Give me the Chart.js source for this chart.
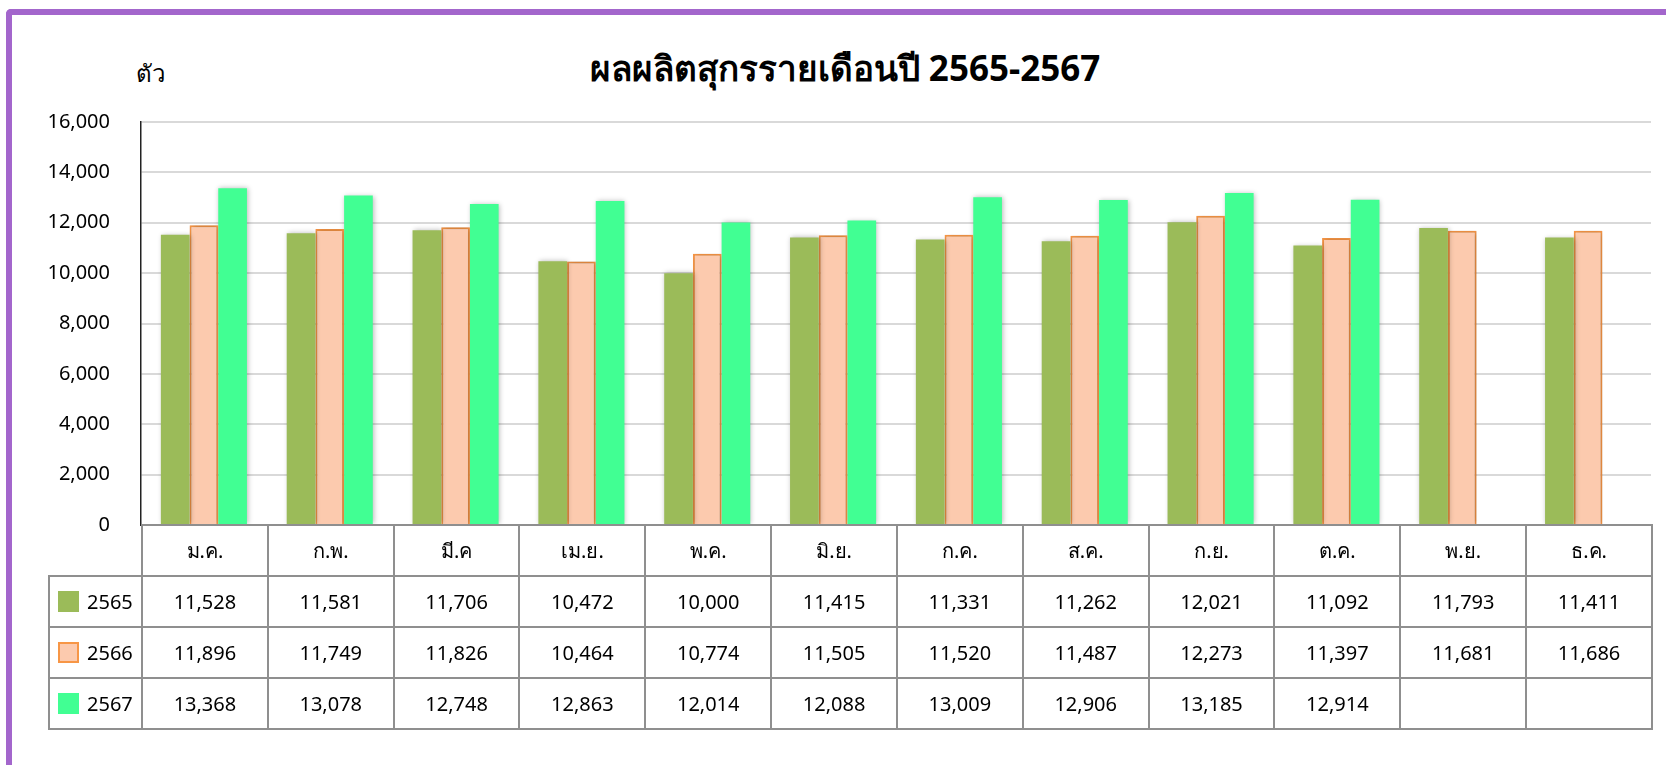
<!DOCTYPE html>
<html>
<head>
<meta charset="utf-8">
<script src="https://cdn.jsdelivr.net/npm/chart.js@4.4.1/dist/chart.umd.min.js"></script>
<style>
  body { margin: 0; width: 1666px; height: 765px; overflow: hidden; background: #fff; position: relative;
         font-family: "Noto Sans", "DejaVu Sans", sans-serif; color: #000; }
  #frame { position: absolute; left: 6px; top: 9px; width: 1720px; height: 820px;
           border-left: 6px solid #A366CC; border-top: 6px solid #A366CC; border-top-left-radius: 5px; }
  #title { position: absolute; left: 845px; top: 41px; transform: translateX(-50%); white-space: nowrap;
           font-size: 35px; font-weight: bold; }
  #unit { position: absolute; left: 136px; top: 54px; font-size: 24px; }
  #chart { position: absolute; left: 0; top: 0; }
  #data-table { position: absolute; border-collapse: collapse; table-layout: fixed; font-size: 20px; }
  #data-table td { border: 2px solid #8f8f8f; text-align: center; padding: 0; height: 49px; }
  #data-table td.blank { border: none; }
  #data-table td.legend { text-align: left; white-space: nowrap; }
  .swatch { display: inline-block; width: 21px; height: 21px; box-sizing: border-box;
            vertical-align: -3px; margin: 0 8px 0 8px; }
</style>
</head>
<body>
<div id="frame"></div>
<div id="title">ผลผลิตสุกรรายเดือนปี 2565-2567</div>
<div id="unit">ตัว</div>
<canvas id="chart" width="1666" height="765"></canvas>
<table id="data-table"></table>

<script>
// monthly pig output, 2565-2567
const months = ['ม.ค.', 'ก.พ.', 'มี.ค', 'เม.ย.', 'พ.ค.', 'มิ.ย.', 'ก.ค.', 'ส.ค.', 'ก.ย.', 'ต.ค.', 'พ.ย.', 'ธ.ค.'];
const years = ['2565', '2566', '2567'];
const y2565 = [11528, 11581, 11706, 10472, 10000, 11415, 11331, 11262, 12021, 11092, 11793, 11411];
const y2566 = [11896, 11749, 11826, 10464, 10774, 11505, 11520, 11487, 12273, 11397, 11681, 11686];
const y2567 = [13368, 13078, 12748, 12863, 12014, 12088, 13009, 12906, 13185, 12914, null, null];
const yMax = 16000;
const yStep = 2000;

const fills = ['#9BBB59', '#FCCAAE', '#41FF93'];
const borders = ['#9BBB59', '#F79646', '#41FF93'];
const fmt = v => v == null ? '' : v.toLocaleString('en-US');

// soft shadow behind the bars
const barShadow = {
  id: 'barShadow',
  beforeDatasetsDraw(chart) {
    const ctx = chart.ctx;
    ctx.save();
    ctx.shadowColor = 'rgba(0,0,0,0.28)';
    ctx.shadowBlur = 5;
    ctx.shadowOffsetX = 1;
    ctx.shadowOffsetY = 0;
  },
  afterDatasetsDraw(chart) {
    chart.ctx.restore();
  }
};

const chart = new Chart(document.getElementById('chart'), {
  type: 'bar',
  data: {
    labels: months,
    datasets: [y2565, y2566, y2567].map((d, i) => ({
      label: years[i],
      data: d,
      backgroundColor: fills[i],
      borderColor: borders[i],
      borderWidth: i === 1 ? 2 : 0,
      categoryPercentage: 0.684,
      barPercentage: 1.0
    }))
  },
  options: {
    responsive: false,
    animation: false,
    devicePixelRatio: 1,
    layout: { padding: { left: 0, right: 15, top: 122, bottom: 240 } },
    plugins: {
      legend: { display: false },
      title: { display: false },
      tooltip: { enabled: false }
    },
    scales: {
      x: { display: false },
      y: {
        min: 0,
        max: yMax,
        afterFit: s => { s.width = 141; },
        ticks: {
          stepSize: yStep,
          padding: 31,
          color: '#000',
          font: { family: '"Noto Sans", "DejaVu Sans", sans-serif', size: 20 },
          callback: v => fmt(v)
        },
        grid: { color: '#d9d9d9', lineWidth: 2, drawTicks: false },
        border: { color: '#222', width: 1.5 }
      }
    }
  },
  plugins: [barShadow]
});

function buildTable(chart) {
  const area = chart.chartArea;
  const colW = (area.right - area.left) / months.length;
  const legendW = area.left - 48;
  const table = document.getElementById('data-table');
  table.style.left = (area.left - legendW) + 'px';
  table.style.top = (area.bottom - 1) + 'px';
  table.style.width = (legendW + colW * months.length) + 'px';

  let html = '<colgroup><col style="width:' + legendW + 'px">';
  months.forEach(() => { html += '<col style="width:' + colW + 'px">'; });
  html += '</colgroup>';

  html += '<tr><td class="blank"></td>' + months.map(m => '<td>' + m + '</td>').join('') + '</tr>';
  [y2565, y2566, y2567].forEach((d, i) => {
    const sw = '<span class="swatch" style="background:' + fills[i] +
      (i === 1 ? ';border:2px solid ' + borders[i] : '') + '"></span>';
    html += '<tr><td class="legend">' + sw + years[i] + '</td>' +
      d.map(v => '<td>' + fmt(v) + '</td>').join('') + '</tr>';
  });
  table.innerHTML = html;
}

buildTable(chart);
</script>
</body>
</html>
